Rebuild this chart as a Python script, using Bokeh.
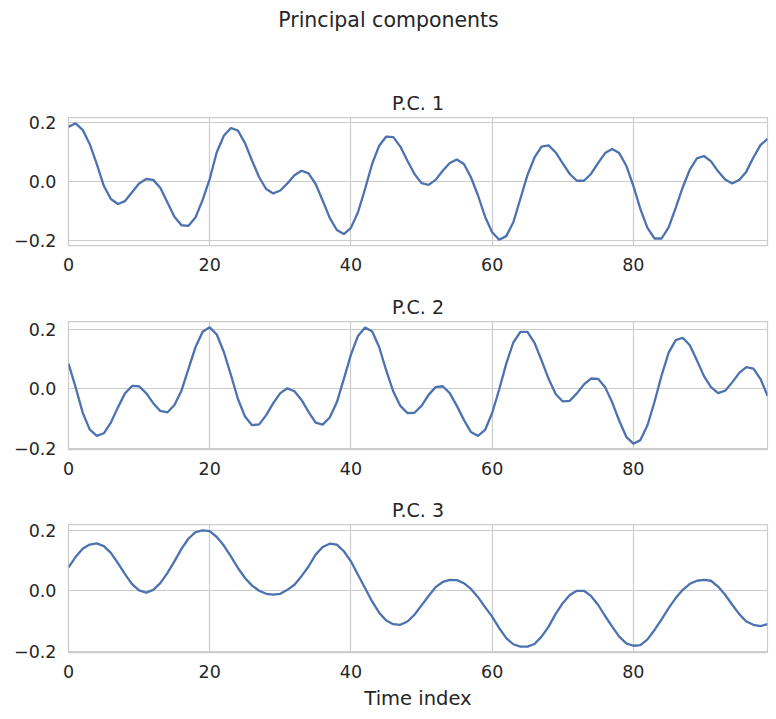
from bokeh.plotting import figure
from bokeh.layouts import column
from bokeh.models import Range1d, FixedTicker, CustomJSTickFormatter
from bokeh.core.properties import value
from bokeh.embed import file_html
from bokeh.resources import INLINE

FONT = "DejaVu Sans"
INK = "#262626"
GRID = "#cccccc"
LINE = "#4c72b0"

# ---- data -------------------------------------------------------------
time_index = list(range(100))
x_ticks = [0, 20, 40, 60, 80]
y_ticks = [-0.2, 0.0, 0.2]
panel_titles = ["P.C. 1", "P.C. 2", "P.C. 3"]
suptitle = "Principal components"
x_label = "Time index"

pc1 = [0.186, 0.198, 0.176, 0.128, 0.060, -0.014, -0.059, -0.076, -0.066, -0.036,
       -0.006, 0.009, 0.006, -0.021, -0.070, -0.119, -0.148, -0.150, -0.121, -0.062,
       0.009, 0.100, 0.156, 0.182, 0.173, 0.131, 0.071, 0.015, -0.025, -0.040,
       -0.030, -0.006, 0.022, 0.037, 0.028, -0.008, -0.064, -0.123, -0.164, -0.178,
       -0.157, -0.104, -0.025, 0.060, 0.122, 0.153, 0.151, 0.119, 0.071, 0.026,
       -0.005, -0.011, 0.006, 0.037, 0.063, 0.075, 0.060, 0.015, -0.047, -0.119,
       -0.172, -0.197, -0.185, -0.138, -0.058, 0.022, 0.082, 0.119, 0.123, 0.099,
       0.062, 0.026, 0.003, 0.003, 0.026, 0.063, 0.097, 0.111, 0.097, 0.054,
       -0.014, -0.093, -0.157, -0.193, -0.193, -0.155, -0.089, -0.019, 0.041, 0.079,
       0.087, 0.069, 0.035, 0.007, -0.006, 0.006, 0.034, 0.082, 0.124, 0.145]

pc2 = [0.084, 0.005, -0.080, -0.137, -0.159, -0.150, -0.114, -0.063, -0.016, 0.009,
       0.008, -0.015, -0.049, -0.075, -0.080, -0.055, -0.007, 0.067, 0.140, 0.191,
       0.206, 0.182, 0.123, 0.046, -0.035, -0.094, -0.123, -0.120, -0.089, -0.049,
       -0.015, 0.001, -0.009, -0.038, -0.078, -0.114, -0.121, -0.097, -0.046, 0.033,
       0.114, 0.177, 0.205, 0.193, 0.140, 0.061, -0.010, -0.058, -0.082, -0.081,
       -0.058, -0.021, 0.005, 0.008, -0.015, -0.058, -0.105, -0.146, -0.159, -0.139,
       -0.082, -0.003, 0.084, 0.155, 0.191, 0.191, 0.154, 0.095, 0.033, -0.018,
       -0.043, -0.041, -0.016, 0.014, 0.034, 0.033, 0.005, -0.046, -0.108, -0.162,
       -0.185, -0.173, -0.123, -0.044, 0.044, 0.121, 0.163, 0.171, 0.146, 0.095,
       0.042, 0.005, -0.015, -0.007, 0.021, 0.053, 0.072, 0.067, 0.033, -0.024]

pc3 = [0.077, 0.111, 0.138, 0.152, 0.156, 0.147, 0.125, 0.091, 0.055, 0.022,
       0.001, -0.006, 0.003, 0.025, 0.058, 0.097, 0.138, 0.172, 0.193, 0.199,
       0.196, 0.177, 0.149, 0.113, 0.075, 0.042, 0.017, 0.000, -0.010, -0.013,
       -0.010, 0.003, 0.020, 0.048, 0.080, 0.119, 0.144, 0.155, 0.152, 0.130,
       0.097, 0.053, 0.009, -0.035, -0.072, -0.098, -0.110, -0.112, -0.101, -0.079,
       -0.048, -0.017, 0.012, 0.029, 0.036, 0.035, 0.025, 0.006, -0.021, -0.054,
       -0.085, -0.123, -0.156, -0.176, -0.184, -0.184, -0.175, -0.151, -0.118, -0.076,
       -0.041, -0.014, 0.000, 0.000, -0.017, -0.046, -0.083, -0.118, -0.151, -0.173,
       -0.181, -0.179, -0.160, -0.129, -0.094, -0.057, -0.024, 0.003, 0.023, 0.033,
       0.036, 0.033, 0.014, -0.013, -0.046, -0.077, -0.101, -0.112, -0.116, -0.110]

series = [pc1, pc2, pc3]

# ---- layout constants --------------------------------------------------
FRAME_W, FRAME_H = 699, 128
LEFT, RIGHT = 68, 9
PAGE_W = LEFT + FRAME_W + RIGHT
HEADER_H = 50
borders = [(67, 36), (40, 36), (39, 67)]   # (top, bottom) per panel


def header():
    # same side borders as the panels, so the column lines the frames up;
    # the x range is in pixels measured from the frame's left edge
    p = figure(frame_width=FRAME_W, frame_height=HEADER_H,
               x_range=Range1d(0, FRAME_W), y_range=Range1d(0, HEADER_H),
               x_axis_type=None, y_axis_type=None, toolbar_location=None,
               output_backend="svg", min_border_left=LEFT,
               min_border_right=RIGHT, min_border_top=0, min_border_bottom=0)
    p.outline_line_color = None
    p.grid.visible = False
    p.text(x=[PAGE_W / 2 - LEFT], y=[HEADER_H - 19], text=[suptitle],
           text_align="center", text_baseline="middle",
           text_font=value(FONT), text_font_size="20.5px", text_color=INK)
    return p


def panel(title, ys, top, bottom, xlabel=None):
    lo, hi = min(ys), max(ys)
    pad = 0.05 * (hi - lo)
    p = figure(frame_width=FRAME_W, frame_height=FRAME_H,
               x_range=Range1d(time_index[0], time_index[-1]),
               y_range=Range1d(lo - pad, hi + pad),
               toolbar_location=None, output_backend="svg",
               min_border_left=LEFT, min_border_right=RIGHT,
               min_border_top=top, min_border_bottom=bottom)
    p.background_fill_color = "white"
    p.border_fill_color = "white"
    p.outline_line_color = GRID
    p.outline_line_width = 1.25

    p.title.text = title
    p.title.align = "center"
    p.title.text_font = FONT
    p.title.text_font_size = "19px"
    p.title.text_font_style = "normal"
    p.title.text_color = INK
    p.title.standoff = 8

    p.xaxis.ticker = FixedTicker(ticks=x_ticks)
    p.yaxis.ticker = FixedTicker(ticks=y_ticks)
    p.yaxis.formatter = CustomJSTickFormatter(
        code="return (tick < -1e-9 ? '\\u2212' : '') + Math.abs(tick).toFixed(1);")
    for ax in (p.xaxis, p.yaxis):
        ax.axis_line_color = None
        ax.major_tick_in = 0
        ax.major_tick_out = 0
        ax.minor_tick_in = 0
        ax.minor_tick_out = 0
        ax.major_label_text_font = FONT
        ax.major_label_text_font_size = "17.5px"
        ax.major_label_text_color = INK
        ax.major_label_standoff = 12
    if xlabel:
        p.xaxis.axis_label = xlabel
        p.xaxis.axis_label_text_font = FONT
        p.xaxis.axis_label_text_font_size = "19.5px"
        p.xaxis.axis_label_text_font_style = "normal"
        p.xaxis.axis_label_text_color = INK
        p.xaxis.axis_label_standoff = 6

    p.grid.grid_line_color = GRID
    p.grid.grid_line_width = 1.2

    p.line(time_index, ys, line_color=LINE, line_width=2.3)
    return p


figs = [header()]
for i, (t, ys) in enumerate(zip(panel_titles, series)):
    top, bottom = borders[i]
    figs.append(panel(t, ys, top, bottom, xlabel=x_label if i == 2 else None))

layout = column(*figs, spacing=0)
open("out.html", "w").write(file_html(layout, INLINE))
